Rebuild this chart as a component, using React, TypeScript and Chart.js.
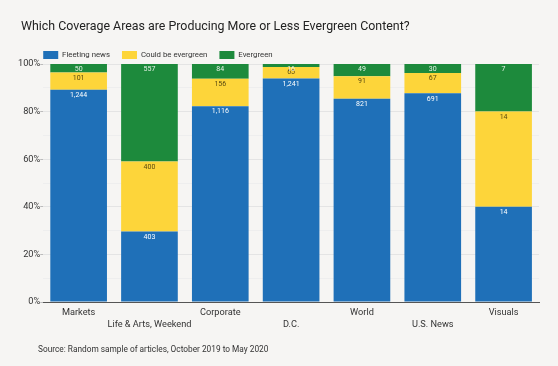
import React, { useEffect, useRef } from "react";
import { Chart, registerables } from "chart.js";

Chart.register(...registerables);

const TITLE = "Which Coverage Areas are Producing More or Less Evergreen Content?";
const SOURCE = "Source: Random sample of articles, October 2019 to May 2020";
const categories = ["Markets", "Life & Arts, Weekend", "Corporate", "D.C.", "World", "U.S. News", "Visuals"];
const fleeting = [1244, 403, 1116, 1241, 821, 691, 14];
const couldBe = [101, 400, 156, 65, 91, 67, 14];
const evergreen = [50, 557, 84, 16, 49, 30, 7];
const seriesNames = ["Fleeting news", "Could be evergreen", "Evergreen"];
const yTicks = [0, 20, 40, 60, 80, 100];

const COLORS = ["#1f70b8", "#fdd53a", "#1d8a3c"];
const LABEL_COLORS = ["#ffffff", "#5a4a10", "#e8f3e8"];
const BG = "#f6f5f3";
const FONT = "Roboto";
const LEGEND_PAD = 12;

const totals = categories.map((_, i) => fleeting[i] + couldBe[i] + evergreen[i]);
const rawSeries = [fleeting, couldBe, evergreen];

const textPlugin = {
  id: "texts",
  afterLayout(chart: any) {
    if (chart.legend) {
      const shift = chart.chartArea.left - LEGEND_PAD - chart.legend.left;
      chart.legend.left += shift;
      chart.legend.right += shift;
    }
  },
  beforeDraw(chart: any) {
    const ctx = chart.ctx;
    ctx.save();
    ctx.fillStyle = BG;
    ctx.fillRect(0, 0, chart.width, chart.height);
    ctx.fillStyle = "#222";
    ctx.font = `12.4px ${FONT}`;
    ctx.textBaseline = "middle";
    ctx.textAlign = "left";
    ctx.fillText(TITLE, 21, 27);
    ctx.font = `8.3px ${FONT}`;
    ctx.fillStyle = "#333";
    ctx.fillText(SOURCE, 38, 350);
    ctx.restore();
  },
};

const valueLabels = {
  id: "valueLabels",
  afterDatasetsDraw(chart: any) {
    const ctx = chart.ctx;
    ctx.save();
    ctx.font = `7px ${FONT}`;
    ctx.textAlign = "center";
    ctx.textBaseline = "middle";
    chart.data.datasets.forEach((ds: any, di: number) => {
      const meta = chart.getDatasetMeta(di);
      meta.data.forEach((bar: any, i: number) => {
        const v = rawSeries[di][i];
        ctx.fillStyle = LABEL_COLORS[di];
        const top = Math.min(bar.y, bar.base);
        ctx.fillText(v.toLocaleString("en-US"), bar.x, top + 5.5);
      });
    });
    ctx.restore();
  },
};

export default function App() {
  const ref = useRef<HTMLCanvasElement>(null);
  useEffect(() => {
    document.body.style.margin = "0";
    const datasets = rawSeries.map((arr, di) => ({
      label: seriesNames[di],
      data: arr.map((v, i) => (v / totals[i]) * 100),
      backgroundColor: COLORS[di],
      borderWidth: 0,
      categoryPercentage: 1,
      barPercentage: 0.8,
    }));
    const chart = new Chart(ref.current!, {
      type: "bar",
      data: { labels: categories, datasets },
      plugins: [textPlugin, valueLabels],
      options: {
        animation: false,
        responsive: false,
        devicePixelRatio: 1,
        layout: { padding: { left: 18, right: 19, top: 39, bottom: 30 } },
        plugins: {
          legend: {
            position: "top",
            align: "start",
            maxHeight: 25,
            labels: {
              boxWidth: 15,
              boxHeight: 8,
              padding: LEGEND_PAD,
              color: "#333",
              font: { family: FONT, size: 7.8 },
            },
          },
          tooltip: { enabled: false },
          title: { display: false },
        },
        scales: {
          x: {
            stacked: true,
            grid: { display: false, drawTicks: false },
            border: { display: true, color: "#555" },
            ticks: {
              autoSkip: false,
              maxRotation: 0,
              color: "#333",
              font: { family: FONT, size: 9.2, lineHeight: 1.3 },
              padding: 5,
              callback: (_v: any, i: number) => (i % 2 === 0 ? [categories[i]] : ["", categories[i]]),
            },
          },
          y: {
            stacked: true,
            min: 0,
            max: 100,
            grid: {
              color: (c: any) => (c.tick && yTicks.includes(c.tick.value) ? "#e4e4e4" : "#eeeeee"),
              tickColor: (c: any) => (c.tick && yTicks.includes(c.tick.value) ? "#bbb" : "rgba(0,0,0,0)"),
              tickLength: 3,
            },
            border: { display: false },
            ticks: {
              stepSize: 10,
              autoSkip: false,
              color: "#333",
              font: { family: FONT, size: 9.2 },
              padding: 0,
              callback: (v: any) => (yTicks.includes(v) ? v + "%" : ""),
            },
          },
        },
      },
    });
    return () => chart.destroy();
  }, []);
  return <canvas ref={ref} width={558} height={366} style={{ display: "block" }} />;
}
